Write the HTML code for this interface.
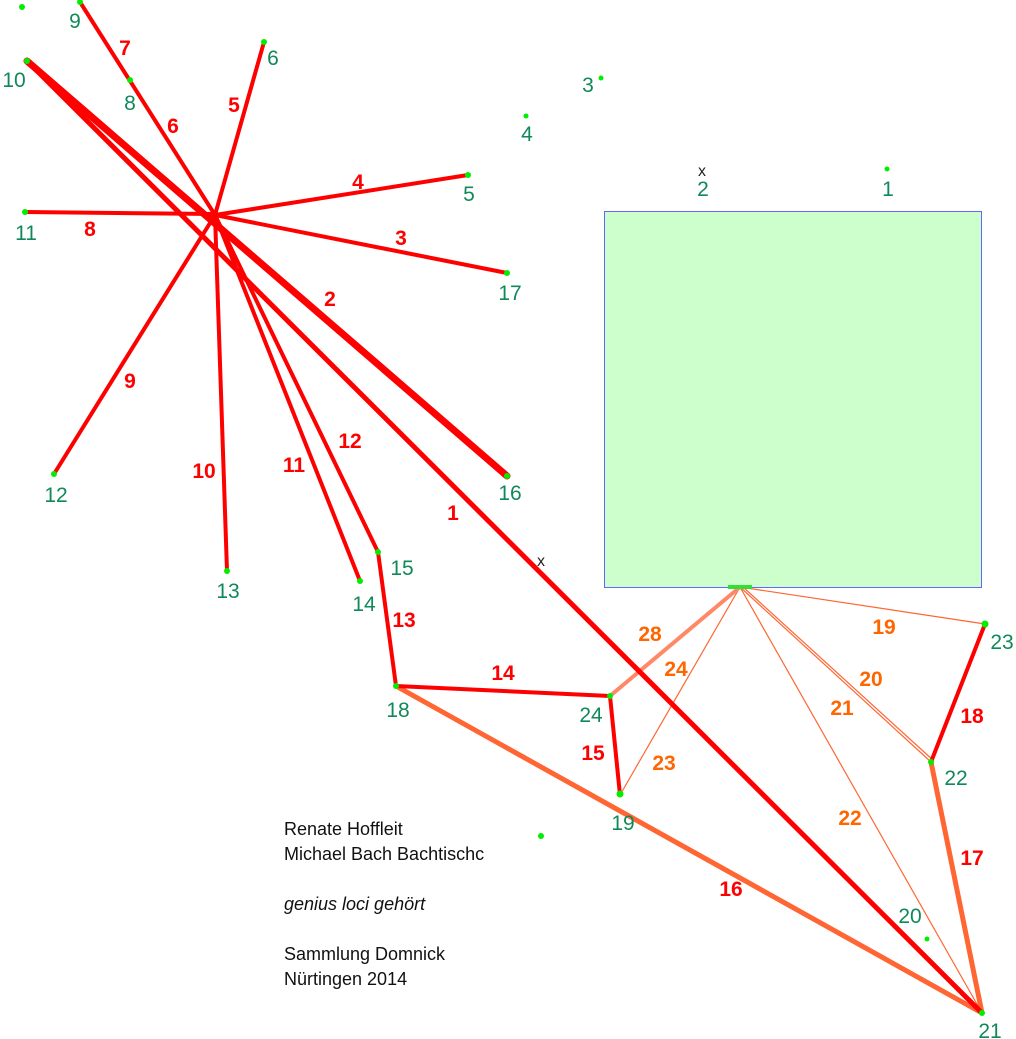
<!DOCTYPE html>
<html><head><meta charset="utf-8"><style>
html,body{margin:0;padding:0;background:#fff}
svg{display:block}
.n{font-family:"Liberation Sans",sans-serif;font-size:21px;fill:#11885a;text-anchor:middle}
.e{font-family:"Liberation Sans",sans-serif;font-size:21px;font-weight:bold;fill:#f00;text-anchor:middle}
.o{font-family:"Liberation Sans",sans-serif;font-size:21px;font-weight:bold;fill:#f60;text-anchor:middle}
.t{font-family:"Liberation Sans",sans-serif;font-size:18px;fill:#111}
</style></head><body>
<svg width="1016" height="1039" viewBox="0 0 1016 1039" xmlns="http://www.w3.org/2000/svg">
<rect x="604.5" y="211.5" width="377" height="376" fill="#ccffcc" stroke="#6666ff" stroke-width="1"/>
<g stroke="#ff6633" fill="none">
<line x1="740" y1="587" x2="985" y2="624" stroke-width="1.2"/>
<line x1="740" y1="587" x2="931" y2="762" stroke-width="1.2"/>
<line x1="743" y1="587" x2="934" y2="761" stroke-width="1.2"/>
<line x1="740" y1="587" x2="982" y2="1013" stroke-width="1.2"/>
<line x1="740" y1="587" x2="620" y2="795" stroke-width="1.2"/>
<line x1="740" y1="587" x2="610" y2="696" stroke-width="4" stroke="#ff8866"/>
<line x1="396" y1="686" x2="982" y2="1013" stroke-width="5"/>
<line x1="931" y1="762" x2="982" y2="1013" stroke-width="5"/>
</g>
<g stroke="#ff0000" fill="none" stroke-linecap="round">
<line x1="80" y1="2" x2="215" y2="215" stroke-width="4"/>
<line x1="264" y1="42" x2="215" y2="215" stroke-width="4"/>
<line x1="468" y1="175" x2="215" y2="215" stroke-width="4"/>
<line x1="507" y1="273" x2="215" y2="215" stroke-width="4"/>
<line x1="25" y1="212" x2="215" y2="214" stroke-width="4"/>
<line x1="27" y1="61" x2="507" y2="476" stroke-width="7"/>
<line x1="27" y1="61" x2="982" y2="1013" stroke-width="5"/>
<line x1="54" y1="474" x2="215" y2="215" stroke-width="4"/>
<line x1="227" y1="571" x2="215" y2="215" stroke-width="4"/>
<line x1="360" y1="581" x2="215" y2="215" stroke-width="4"/>
<line x1="378" y1="552" x2="215" y2="215" stroke-width="4"/>
<line x1="378" y1="552" x2="396" y2="686" stroke-width="4"/>
<line x1="396" y1="686" x2="610" y2="696" stroke-width="4"/>
<line x1="610" y1="696" x2="620" y2="795" stroke-width="4"/>
<line x1="985" y1="624" x2="931" y2="762" stroke-width="4"/>
</g>
<rect x="728" y="585" width="24" height="4" fill="#33dd33"/>
<g fill="#00ee00">
<circle cx="80" cy="2" r="3"/><circle cx="22" cy="7" r="3"/><circle cx="27" cy="61" r="3"/>
<circle cx="130" cy="80" r="3"/><circle cx="264" cy="42" r="3"/><circle cx="601" cy="78" r="2.5"/>
<circle cx="526" cy="116" r="2.5"/><circle cx="887" cy="169" r="2.5"/><circle cx="468" cy="175" r="3"/>
<circle cx="25" cy="212" r="3"/><circle cx="507" cy="273" r="3"/><circle cx="54" cy="474" r="3"/>
<circle cx="507" cy="476" r="3"/><circle cx="227" cy="571" r="3"/><circle cx="378" cy="552" r="3"/>
<circle cx="360" cy="581" r="3"/><circle cx="396" cy="686" r="3"/><circle cx="610" cy="696" r="3"/>
<circle cx="620" cy="794" r="3.5"/><circle cx="985" cy="624" r="3.5"/><circle cx="931" cy="762" r="3"/>
<circle cx="927" cy="939" r="2.5"/><circle cx="982" cy="1013" r="3"/><circle cx="541" cy="836" r="3"/>
</g>
<g font-family="Liberation Sans,sans-serif" font-size="16" fill="#222" text-anchor="middle">
<text x="702" y="176">x</text><text x="541" y="566">x</text>
</g>
<g class="n">
<text x="75" y="28">9</text><text x="14" y="87">10</text><text x="130" y="110">8</text>
<text x="273" y="65">6</text><text x="588" y="92">3</text><text x="527" y="141">4</text>
<text x="703" y="196">2</text><text x="888" y="196">1</text><text x="469" y="201">5</text>
<text x="26" y="240">11</text><text x="510" y="300">17</text><text x="56" y="502">12</text>
<text x="510" y="500">16</text><text x="228" y="598">13</text><text x="402" y="575">15</text>
<text x="364" y="611">14</text><text x="398" y="717">18</text><text x="591" y="722">24</text>
<text x="623" y="830">19</text><text x="1002" y="649">23</text><text x="956" y="785">22</text>
<text x="910" y="923">20</text><text x="990" y="1038">21</text>
</g>
<g class="e">
<text x="125" y="55">7</text><text x="173" y="133">6</text><text x="234" y="112">5</text>
<text x="358" y="189">4</text><text x="401" y="245">3</text><text x="90" y="236">8</text>
<text x="330" y="306">2</text><text x="130" y="388">9</text><text x="204" y="478">10</text>
<text x="294" y="472">11</text><text x="350" y="448">12</text><text x="453" y="520">1</text>
<text x="404" y="627">13</text><text x="503" y="680">14</text><text x="593" y="760">15</text>
<text x="731" y="896">16</text><text x="972" y="865">17</text><text x="972" y="723">18</text>
</g>
<g class="o">
<text x="650" y="641">28</text><text x="676" y="676">24</text><text x="664" y="770">23</text>
<text x="884" y="634">19</text><text x="871" y="686">20</text><text x="842" y="715">21</text>
<text x="850" y="825">22</text>
</g>
<g class="t">
<text x="284" y="835">Renate Hoffleit</text>
<text x="284" y="860">Michael Bach Bachtischc</text>
<text x="284" y="910" font-style="italic">genius loci gehört</text>
<text x="284" y="960">Sammlung Domnick</text>
<text x="284" y="985">Nürtingen 2014</text>
</g>
</svg>
</body></html>
